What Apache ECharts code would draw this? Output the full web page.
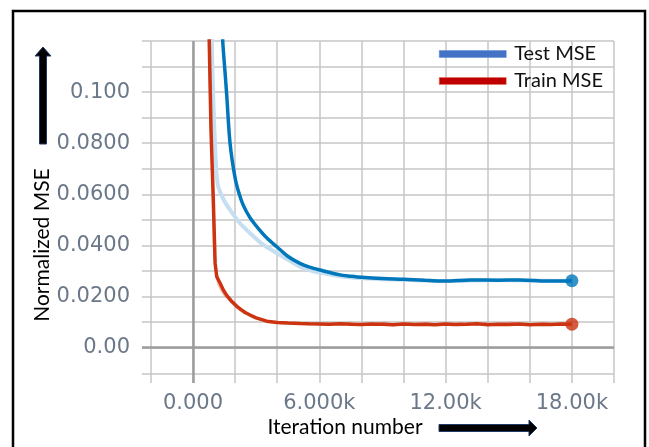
<!DOCTYPE html>
<html>
<head>
<meta charset="utf-8">
<script src="https://cdn.jsdelivr.net/npm/echarts@6/dist/echarts.min.js"></script>
<style>
html,body{margin:0;padding:0;background:#fff;}
#chart{width:649px;height:447px;}
</style>
</head>
<body>
<div id="chart"></div>
<script>
// ---- data (x in thousands of iterations) ----
const testX = [1.25, 1.41, 1.52, 1.60, 1.76, 2.00, 2.20, 2.39, 2.70, 3.03, 3.50, 3.98, 4.50, 5.08, 5.50, 6.03, 6.98, 7.50, 8.01, 9.00, 9.98, 11.0, 11.73, 12.0, 13.16, 14.5, 15.53, 16.8, 17.5, 18.0];
const testY = [0.160, 0.1205, 0.108, 0.099, 0.080, 0.0664, 0.0600, 0.0557, 0.0510, 0.0474, 0.0430, 0.0395, 0.0358, 0.0330, 0.0316, 0.0304, 0.0285, 0.0280, 0.0276, 0.0271, 0.0268, 0.0264, 0.0261, 0.0261, 0.0265, 0.0264, 0.0265, 0.0261, 0.0261, 0.0262];

const testRawX = [0.80, 0.89, 0.97, 1.05, 1.12, 1.20, 1.45, 1.76, 2.20, 2.71, 3.30, 3.98, 4.50, 5.08, 5.60, 6.19, 7.00, 8.00, 10.0, 12.0, 14.0, 16.0, 18.0];
const testRawY = [0.160, 0.1205, 0.095, 0.0787, 0.068, 0.063, 0.058, 0.0539, 0.049, 0.0448, 0.0405, 0.0370, 0.0345, 0.0317, 0.0302, 0.0291, 0.0280, 0.0272, 0.0266, 0.0261, 0.0264, 0.0263, 0.0261];

const trainX = [0.70,0.77,0.855,0.96,1.05,1.13,1.30,1.44,1.60,1.80,2.08,2.30,2.50,2.71,3.00,3.50,4.00,4.50,5.08,5.50,6.00,6.50,7.00,7.50,8.00,8.50,9.00,9.50,10.0,10.5,11.0,11.5,12.0,12.5,13.0,13.5,14.0,14.5,15.0,15.5,16.0,16.5,17.0,17.5,18.0];
const trainY = [0.160,0.1205,0.0852,0.0591,0.0330,0.0278,0.0250,0.0226,0.0205,0.0185,0.0162,0.0148,0.0137,0.0128,0.0117,0.0104,0.0099,0.0097,0.0095,0.0094,0.0093,0.0092,0.0094,0.0092,0.0091,0.0093,0.0092,0.0090,0.0093,0.0091,0.0092,0.0090,0.0093,0.0091,0.0092,0.0094,0.0090,0.0092,0.0091,0.0093,0.0090,0.0092,0.0091,0.0093,0.0092];

const trainRawX = [0.70,0.80,0.90,1.00,1.10,1.20,1.35,1.50,1.65,1.80,2.00,2.20,2.40,2.60,2.80,3.00,3.30,3.60,3.90,4.20,4.50,4.80,5.10,5.50,5.90,6.30,6.70,7.10,7.50,7.90,8.30,8.70,9.10,9.50,9.90,10.3,10.7,11.1,11.5,11.9,12.3,12.7,13.1,13.5,13.9,14.3,14.7,15.1,15.5,15.9,16.3,16.7,17.1,17.5,17.9,18.0];
const trainRawY = [0.150,0.105,0.075,0.040,0.029,0.025,0.0225,0.0205,0.0195,0.0180,0.0165,0.0150,0.0138,0.0132,0.0120,0.0116,0.0108,0.0102,0.0100,0.0096,0.0099,0.0093,0.0097,0.0092,0.0096,0.0090,0.0095,0.0091,0.0097,0.0089,0.0094,0.0092,0.0098,0.0088,0.0093,0.0095,0.0089,0.0096,0.0091,0.0094,0.0088,0.0097,0.0092,0.0090,0.0096,0.0089,0.0094,0.0098,0.0090,0.0093,0.0089,0.0096,0.0091,0.0095,0.0090,0.0092];

const xTickValues = [0, 6, 12, 18];
const xTickLabels = ['0.000', '6.000k', '12.00k', '18.00k'];
const yTickValues = [0, 0.02, 0.04, 0.06, 0.08, 0.1];
const yTickLabels = ['0.00', '0.0200', '0.0400', '0.0600', '0.0800', '0.100'];
const xGridValues = [-2, 0, 2, 4, 6, 8, 10, 12, 14, 16, 18, 20];
const yGridValues = [-0.01, 0, 0.01, 0.02, 0.03, 0.04, 0.05, 0.06, 0.07, 0.08, 0.09, 0.10, 0.11, 0.12];

const seriesNames = ['Test MSE', 'Train MSE'];

function zip(xs, ys) {
  const n = Math.min(xs.length, ys.length);
  const out = [];
  for (let i = 0; i < n; i++) out.push([xs[i], ys[i]]);
  return out;
}
function lookup(vals, labels, v) {
  for (let i = 0; i < vals.length; i++) if (Math.abs(vals[i] - v) < 1e-9) return labels[i];
  return '';
}

const labelFont = { color: '#6b7889', fontFamily: 'DejaVu Sans', fontSize: 21 };
const gridLine = { show: true, lineStyle: { color: '#c6c6c6', width: 1.5 } };

const chart = echarts.init(document.getElementById('chart'), null, { renderer: 'canvas' });
chart.setOption({
  animation: false,
  backgroundColor: '#ffffff',
  grid: { left: 142, right: 35, top: 41, bottom: 64, containLabel: false },
  xAxis: {
    type: 'value', min: -2.423, max: 20,
    axisLine: { show: false },
    axisTick: { show: false, customValues: xGridValues },
    splitLine: gridLine,
    axisLabel: Object.assign({
      customValues: xTickValues, margin: 10,
      formatter: v => lookup(xTickValues, xTickLabels, v)
    }, labelFont)
  },
  yAxis: {
    type: 'value', min: -0.0138, max: 0.12,
    axisLine: { show: false },
    axisTick: { show: false, customValues: yGridValues },
    splitLine: gridLine,
    axisLabel: Object.assign({
      customValues: yTickValues, margin: 12,
      formatter: v => lookup(yTickValues, yTickLabels, v)
    }, labelFont)
  },
  legend: {
    left: 439, top: 43, orient: 'vertical', itemGap: 5, padding: 0,
    itemWidth: 67, itemHeight: 7, icon: 'rect',
    textStyle: { fontFamily: 'Lato', fontSize: 20, color: '#111', lineHeight: 22, padding: [0, 0, 0, 3] },
    data: [
      { name: seriesNames[0], icon: 'rect', itemStyle: { color: '#4472c4', borderColor: '#5b8bd6', borderWidth: 0.5 } },
      { name: seriesNames[1], icon: 'rect', itemStyle: { color: '#c00000', borderColor: '#e07050', borderWidth: 0.5 } }
    ],
    selectedMode: false
  },
  series: [
    {
      type: 'line', name: 'zero', data: [], z: 1, silent: true,
      markLine: {
        silent: true, symbol: ['none', 'none'], label: { show: false },
        lineStyle: { color: '#9c9c9c', width: 2.5, type: 'solid' },
        data: [{ xAxis: 0 }, { yAxis: 0 }]
      }
    },
    {
      type: 'line', name: 'testRaw', data: zip(testRawX, testRawY), showSymbol: false, symbol: 'none',
      smooth: 0.3, lineStyle: { color: '#c5def0', width: 4 }, z: 2, silent: true
    },
    {
      type: 'line', name: 'trainRaw', data: zip(trainRawX, trainRawY), showSymbol: false, symbol: 'none',
      lineStyle: { color: 'rgba(230,90,70,0.35)', width: 2.5 }, z: 2, silent: true
    },
    {
      type: 'line', name: seriesNames[0], data: zip(testX, testY), showSymbol: false, symbol: 'none',
      smooth: 0.3, lineStyle: { color: '#0077bb', width: 3.5 }, itemStyle: { color: '#0077bb' }, z: 4
    },
    {
      type: 'line', name: seriesNames[1], data: zip(trainX, trainY), showSymbol: false, symbol: 'none',
      lineStyle: { color: '#cc3311', width: 3.5 }, itemStyle: { color: '#cc3311' }, z: 4
    },
    {
      type: 'scatter', name: 'testEnd', data: [[testX[testX.length - 1], testY[testY.length - 1]]],
      symbolSize: 13, itemStyle: { color: '#0077bb' }, z: 5, silent: true
    },
    {
      type: 'scatter', name: 'trainEnd', data: [[trainX[trainX.length - 1], trainY[trainY.length - 1]]],
      symbolSize: 13, itemStyle: { color: '#cc3311' }, z: 5, silent: true
    }
  ],
  graphic: [
    { type: 'rect', shape: { x: 13, y: 11, width: 632, height: 460 }, style: { fill: 'none', stroke: '#000', lineWidth: 2.5 }, z: 10 },
    { type: 'polygon', shape: { points: [[39.5,144],[46.5,144],[46.5,56],[51,56],[43,47],[35,56],[39.5,56]] },
      style: { fill: '#000', stroke: '#1f3864', lineWidth: 1 }, z: 10 },
    { type: 'polygon', shape: { points: [[439,424.5],[529,424.5],[529,420],[537,428],[529,436],[529,431.5],[439,431.5]] },
      style: { fill: '#000', stroke: '#1f3864', lineWidth: 1 }, z: 10 },
    { type: 'text', x: 42, y: 245, rotation: Math.PI / 2,
      style: { text: 'Normalized MSE', font: '21px Lato', fill: '#000', align: 'center', verticalAlign: 'middle' }, z: 10 },
    { type: 'text', x: 345, y: 427,
      style: { text: 'Iteration number', font: '21px Lato', fill: '#000', align: 'center', verticalAlign: 'middle' }, z: 10 }
  ]
});
</script>
</body>
</html>
